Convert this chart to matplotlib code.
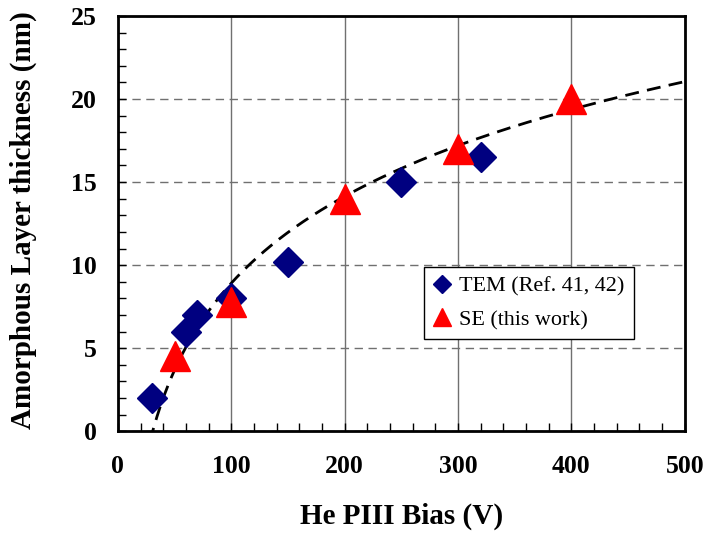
import matplotlib
matplotlib.use("Agg")
import matplotlib.pyplot as plt
import numpy as np
from matplotlib.ticker import MultipleLocator

plt.rcParams['font.family'] = ['Liberation Serif', 'DejaVu Serif']

# TEM data (Ref. 41, 42)
tem_bias = [30, 60, 70, 100, 150, 250, 320]
tem_thick = [2.0, 6.0, 7.0, 8.0, 10.2, 15.0, 16.5]

# SE data (this work)
se_bias = [50, 100, 200, 300, 400]
se_thick = [4.5, 7.8, 14.0, 17.0, 20.0]

# logarithmic trend line through the SE points
a, b = np.polyfit(np.log(se_bias), se_thick, 1)
fit_x = np.linspace(20, 500, 300)
fit_y = a * np.log(fit_x) + b

fig = plt.figure(figsize=(7.06, 5.33), dpi=100)
ax = fig.add_axes([0.167, 0.191, 0.803, 0.779])

ax.plot(fit_x, fit_y, color='black', lw=2, dashes=(5, 3), zorder=3)
ax.plot(tem_bias, tem_thick, 'D', color='#000080', markersize=15,
        label='TEM (Ref. 41, 42)', zorder=4)
ax.plot(se_bias, se_thick, '^', color='#ff0000', markersize=21,
        label='SE (this work)', zorder=5)

ax.set_xlim(0, 500)
ax.set_ylim(0, 25)
ax.xaxis.set_major_locator(MultipleLocator(100))
ax.xaxis.set_minor_locator(MultipleLocator(20))
ax.yaxis.set_major_locator(MultipleLocator(5))
ax.yaxis.set_minor_locator(MultipleLocator(1))

ax.grid(axis='x', which='major', color='#707070', lw=1, ls='-')
ax.grid(axis='y', which='major', color='#707070', lw=1, ls=(0, (6, 4)))
ax.set_axisbelow(True)

ax.tick_params(which='both', direction='in', top=False, right=False)
ax.tick_params(which='major', length=6, width=1, labelsize=18.5)
ax.tick_params(which='minor', length=6, width=1)
ax.tick_params(axis='x', which='major', pad=17)
ax.tick_params(axis='y', which='major', pad=15)
for lab in ax.get_xticklabels() + ax.get_yticklabels():
    lab.set_fontweight('bold')

for sp in ax.spines.values():
    sp.set_linewidth(2)

ax.set_xlabel('He PIII Bias (V)', fontsize=21, fontweight='bold')
ax.set_ylabel('Amorphous Layer thickness (nm)', fontsize=21, fontweight='bold')
ax.xaxis.set_label_coords(0.5, -0.171)
ax.yaxis.set_label_coords(-0.143, 0.508)

leg = ax.legend(loc='upper left', bbox_to_anchor=(0.54, 0.395), borderaxespad=0,
                fontsize=15.9, markerscale=0.6, handlelength=0.8, handletextpad=0.4,
                fancybox=False, framealpha=1, edgecolor='black', borderpad=0.4,
                labelspacing=0.6)
leg.get_frame().set_linewidth(1)

fig.savefig('out.png', dpi=100)
